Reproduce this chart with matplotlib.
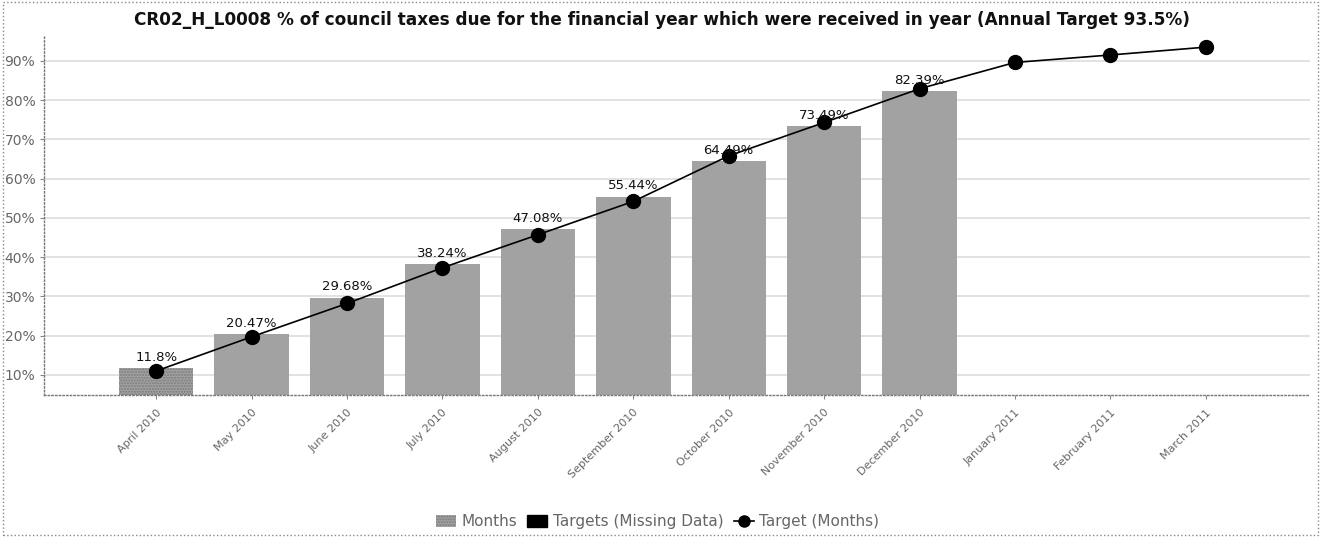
import matplotlib
matplotlib.use("Agg")
import matplotlib.pyplot as plt
from matplotlib.patches import Patch, Rectangle
from matplotlib.lines import Line2D
from matplotlib.ticker import FuncFormatter
import numpy as np

months = ["April 2010", "May 2010", "June 2010", "July 2010", "August 2010",
          "September 2010", "October 2010", "November 2010", "December 2010",
          "January 2011", "February 2011", "March 2011"]

# collected so far (% of council tax due, cumulative)
actual = [11.8, 20.47, 29.68, 38.24, 47.08, 55.44, 64.49, 73.49, 82.39]

# cumulative monthly target, ending at the 93.5% annual target
target = [11.0, 19.7, 28.2, 37.3, 45.7, 54.2, 65.8, 74.3, 82.9, 89.6, 91.5, 93.5]

bar_grey = "#a2a2a2"
text_grey = "#666666"

fig = plt.figure(figsize=(13.23, 5.38), dpi=100)
ax = fig.add_axes([0.033, 0.266, 0.957, 0.669])

x = np.arange(len(months))
xa = x[:len(actual)]

bars = ax.bar(xa, actual, width=0.78, color=bar_grey, zorder=2)
# first month drawn with the stippled "Months" fill
bars[0].set_hatch("......")
bars[0].set_edgecolor("#7a7a7a")
bars[0].set_linewidth(0)

ax.plot(x, target, color="black", lw=1.2, marker="o", markersize=10, zorder=3)

for xi, v in zip(xa, actual):
    lbl = f"{v:g}%"
    ax.annotate(lbl, (xi, v), xytext=(0, 3), textcoords="offset points",
                ha="center", va="bottom", fontsize=9.5, color="#111111", zorder=4)

ax.set_xlim(-1.18, 12.09)
ax.set_ylim(4.9, 96.6)
ax.set_yticks(range(10, 100, 10))
ax.yaxis.set_major_formatter(FuncFormatter(lambda v, p: f"{v:.0f}%"))
ax.set_xticks(x)
ax.set_xticklabels(months, rotation=45, ha="right", va="top",
                   rotation_mode="anchor", fontsize=8, color=text_grey)
ax.tick_params(axis="y", labelsize=10, labelcolor=text_grey, length=3,
               color="#888888", pad=3)
ax.tick_params(axis="x", length=3, color="#888888", pad=6)

ax.grid(axis="y", color="#e2e2e2", lw=1.4, zorder=0)
ax.set_axisbelow(True)
for side in ["top", "right"]:
    ax.spines[side].set_visible(False)
for side in ["left", "bottom"]:
    ax.spines[side].set_linestyle(":")
    ax.spines[side].set_color("#777777")
    ax.spines[side].set_linewidth(1)

fig.text(0.5, 0.962,
         "CR02_H_L0008 % of council taxes due for the financial year which were received in year (Annual Target 93.5%)",
         ha="center", va="center", fontsize=12.2, fontweight="bold", color="#111111")

handles = [
    Patch(facecolor=bar_grey, edgecolor="#7a7a7a", hatch="......", lw=0),
    Patch(facecolor="black", edgecolor="black"),
    Line2D([], [], color="black", lw=1.2, marker="o", markersize=8),
]
labels = ["Months", "Targets (Missing Data)", "Target (Months)"]
fig.legend(handles, labels, loc="center", bbox_to_anchor=(0.497, 0.03), ncol=3,
           frameon=False, fontsize=11, labelcolor=text_grey, handlelength=1.3,
           handletextpad=0.35, columnspacing=0.7, handleheight=0.8)

# dotted frame around the whole chart
fig.patches.append(Rectangle((0.002, 0.006), 0.994, 0.99, transform=fig.transFigure,
                             fill=False, edgecolor="#888888", lw=1, ls=":"))

fig.savefig("out.png", dpi=100)
